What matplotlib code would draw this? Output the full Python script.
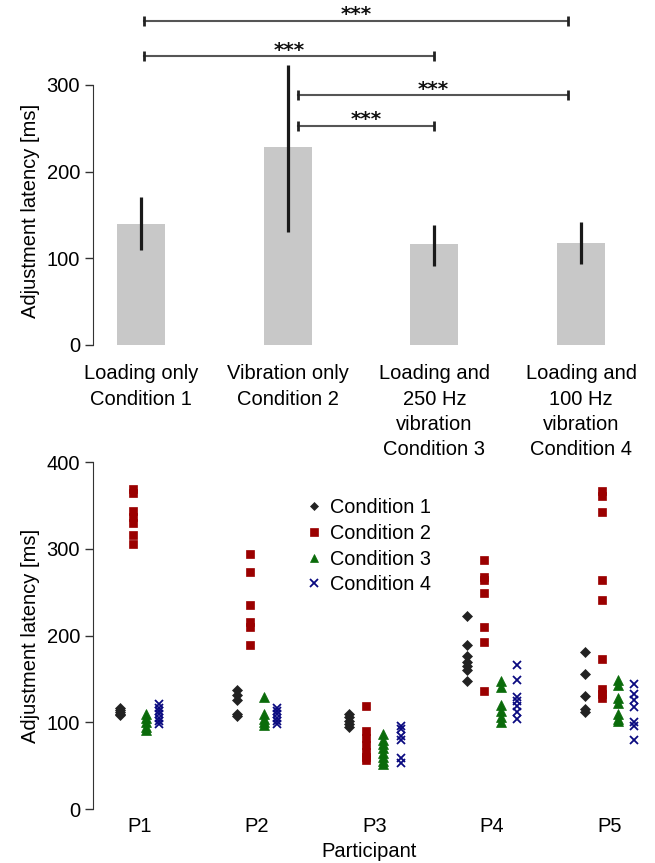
import numpy as np
import matplotlib.pyplot as plt

plt.rcParams['font.family'] = ['Liberation Sans', 'DejaVu Sans']

#------------------------------------------------------------------------------
# Data: mean latency per condition (top panel)

cond_labels = ['Loading only\nCondition 1', 'Vibration only\nCondition 2',
               'Loading and\n250 Hz\nvibration\nCondition 3',
               'Loading and\n100 Hz\nvibration\nCondition 4']
mean_latency = [140, 228, 117, 118]
err_low = [110, 130, 91, 94]
err_high = [171, 323, 138, 142]

# significance brackets (condition index pairs) and their heights
sig_pairs = [(0, 3), (0, 2), (1, 3), (1, 2)]
sig_heights = [374, 333, 288, 253]
sig_text = ['***', '***', '***', '***']

#------------------------------------------------------------------------------
# Data: individual trials per participant (bottom panel)

participants = ['P1', 'P2', 'P3', 'P4', 'P5']
cond_names = ['Condition 1', 'Condition 2', 'Condition 3', 'Condition 4']

c1 = [[117, 114, 112, 110, 108],
      [137, 131, 126, 110, 107],
      [110, 106, 102, 98, 95],
      [222, 189, 176, 170, 165, 160, 147],
      [181, 156, 130, 115, 112]]
c2 = [[369, 364, 344, 337, 330, 316, 305],
      [294, 273, 235, 216, 210, 189],
      [119, 90, 82, 74, 66, 60, 56],
      [287, 268, 264, 249, 210, 192, 136],
      [366, 361, 342, 264, 241, 173, 138, 133, 128]]
c3 = [[110, 105, 100, 95, 91],
      [129, 109, 104, 100, 97],
      [86, 80, 75, 70, 65, 60, 55, 52],
      [148, 141, 120, 113, 106, 100],
      [149, 143, 128, 122, 109, 104, 101]]
c4 = [[121, 117, 113, 109, 105, 101, 98],
      [117, 113, 109, 105, 101, 98],
      [96, 92, 84, 79, 59, 53],
      [166, 149, 129, 125, 119, 112, 104],
      [144, 132, 126, 118, 100, 96, 79]]

#------------------------------------------------------------------------------
# Styles

marker_styles = [('D', '#222222', 5), ('s', '#9b0000', 6), ('^', '#0a6b0a', 6.5), ('x', '#0a0a80', 6)]
group_step = [0.109, 0.113, 0.147, 0.142, 0.139]
spine_col = '#333333'
fs = 14.5

fig = plt.figure(figsize=(6.55, 8.63), dpi=100)

#------------------------------------------------------------------------------
# Top panel: bar chart

ax1 = fig.add_axes([92.7 / 655, 1 - 345 / 863, (645 - 92.7) / 655, 345 / 863])
x = np.arange(len(mean_latency))
ax1.bar(x, mean_latency, width=0.327, color='#c8c8c8', zorder=1)
ax1.vlines(x, err_low, err_high, color='#1a1a1a', lw=2.3, zorder=2)

bracket_nudge = {0: 0.02, 1: 0.07, 2: 0.0, 3: -0.09}
for (a, b), h, t in zip(sig_pairs, sig_heights, sig_text):
    xa = x[a] + bracket_nudge[a]
    xb = x[b] + bracket_nudge[b]
    ax1.plot([xa, xb], [h, h], color='#555555', lw=1.5, clip_on=False)
    ax1.plot([xa, xb], [h, h], ls='none', marker='|', ms=7, mew=2,
             color='#222222', clip_on=False)
    ax1.text((xa + xb) / 2, h + 0.5, t, ha='center', va='baseline',
             fontsize=14.5, fontfamily='DejaVu Sans', fontweight='bold',
             color='#111111')

ax1.set_xlim(-0.329, 3.436)
ax1.set_ylim(0, 398)
ax1.set_yticks([0, 100, 200, 300])
ax1.set_xticks(x)
ax1.set_xticklabels(cond_labels, linespacing=1.42)
ax1.tick_params(axis='x', length=0, pad=14, labelsize=fs)
ax1.tick_params(axis='y', length=6, width=1, color=spine_col, pad=3, labelsize=fs)
for s in ['top', 'right', 'bottom']:
    ax1.spines[s].set_visible(False)
ax1.spines['left'].set_bounds(0, 300)
ax1.spines['left'].set_color(spine_col)
ax1.set_ylabel('Adjustment latency [ms]', fontsize=fs)
ax1.yaxis.set_label_coords(-0.096, 155 / 398)

#------------------------------------------------------------------------------
# Bottom panel: individual trials

ax2 = fig.add_axes([92.7 / 655, 1 - 809 / 863, (645 - 92.7) / 655, 347 / 863])
all_conds = [c1, c2, c3, c4]
for k, (cond, name) in enumerate(zip(all_conds, cond_names)):
    m, col, ms = marker_styles[k]
    for i, vals in enumerate(cond):
        xpos = np.full(len(vals), i + 1 + (k - 1.5) * group_step[i])
        ax2.plot(xpos, vals, ls='none', marker=m, ms=ms, color=col,
                 mew=1.3 if m == 'x' else 0.5,
                 label=name if i == 0 else None)

ax2.set_xlim(0.602, 5.30)
ax2.set_ylim(0, 400)
ax2.set_yticks([0, 100, 200, 300, 400])
ax2.set_xticks(np.arange(1, len(participants) + 1))
ax2.set_xticklabels(participants)
ax2.tick_params(axis='x', length=0, pad=6, labelsize=fs)
ax2.tick_params(axis='y', length=6, width=1, color=spine_col, pad=3, labelsize=fs)
for s in ['top', 'right', 'bottom']:
    ax2.spines[s].set_visible(False)
ax2.spines['left'].set_color(spine_col)
ax2.set_ylabel('Adjustment latency [ms]', fontsize=fs)
ax2.yaxis.set_label_coords(-0.096, 0.5)
ax2.set_xlabel('Participant', fontsize=fs, labelpad=4)

leg = ax2.legend(loc='upper left', bbox_to_anchor=(0.383, 0.895), frameon=False,
                 fontsize=14.3, borderaxespad=0, borderpad=0, handlelength=1.0,
                 handletextpad=0.3, labelspacing=0.33, markerscale=0.85)

fig.savefig('out.png', dpi=100)
